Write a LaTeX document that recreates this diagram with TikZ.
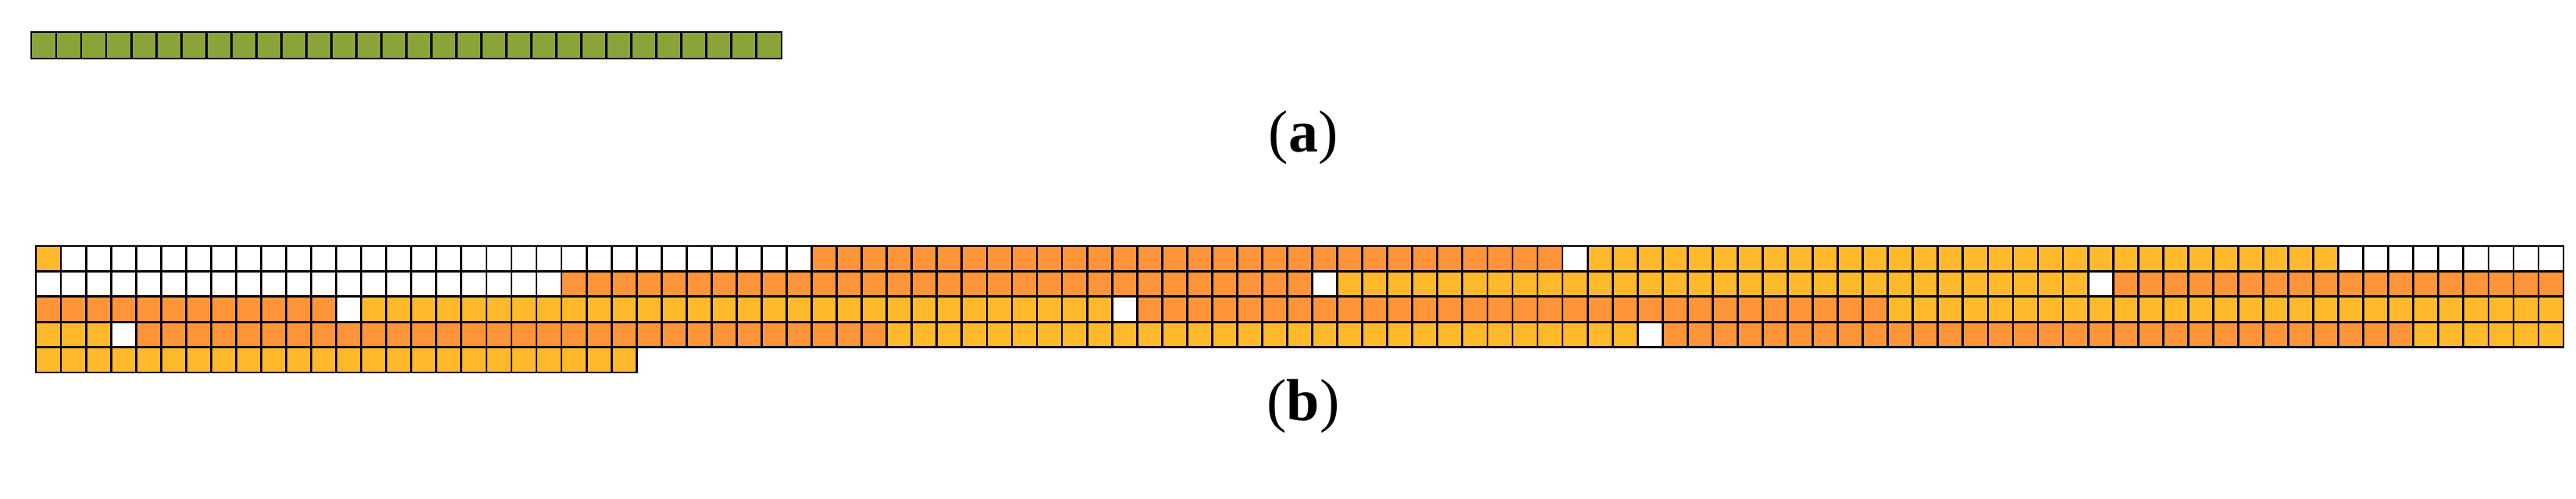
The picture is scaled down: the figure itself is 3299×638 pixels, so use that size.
\documentclass[tikz,border=0pt]{standalone}
\usepackage{fontspec}
\setmainfont{Liberation Serif}
\definecolor{cgreen}{HTML}{8BA43A}
\definecolor{corange}{HTML}{FF9538}
\definecolor{cyellow}{HTML}{FFB92B}
\begin{document}
\begin{tikzpicture}[x=0.5pt,y=-0.5pt,
  cell/.style={draw=black,line width=1.4pt}]
\useasboundingbox (0,0) rectangle (3299,638);
% (a) row
\foreach \k in {0,...,29}
  \draw[cell,fill=cgreen] ({40+32.03*\k},41) rectangle ++(32.03,34);
\node[font=\fontsize{38}{40}\selectfont] (la) at (1669,176) {(\textbf{a})};
% (b) grid
\newcommand{\myseg}[4]{%
  \foreach \k in {#2,...,#3}
    \draw[cell,fill=#4] ({46+32.05*\k},{315+32.4*#1}) rectangle ++(32.05,32.4);}
% row 0
\myseg{0}{0}{0}{cyellow}
\myseg{0}{1}{30}{white}
\myseg{0}{31}{60}{corange}
\myseg{0}{61}{61}{white}
\myseg{0}{62}{91}{cyellow}
\myseg{0}{92}{100}{white}
% row 1
\myseg{1}{0}{20}{white}
\myseg{1}{21}{50}{corange}
\myseg{1}{51}{51}{white}
\myseg{1}{52}{81}{cyellow}
\myseg{1}{82}{82}{white}
\myseg{1}{83}{100}{corange}
% row 2
\myseg{2}{0}{11}{corange}
\myseg{2}{12}{12}{white}
\myseg{2}{13}{42}{cyellow}
\myseg{2}{43}{43}{white}
\myseg{2}{44}{73}{corange}
\myseg{2}{74}{100}{cyellow}
% row 3
\myseg{3}{0}{2}{cyellow}
\myseg{3}{3}{3}{white}
\myseg{3}{4}{33}{corange}
\myseg{3}{34}{63}{cyellow}
\myseg{3}{64}{64}{white}
\myseg{3}{65}{94}{corange}
\myseg{3}{95}{100}{cyellow}
% row 4
\myseg{4}{0}{23}{cyellow}
\node[font=\fontsize{38}{40}\selectfont] (lb) at (1669,520) {(\textbf{b})};
\end{tikzpicture}
\end{document}
